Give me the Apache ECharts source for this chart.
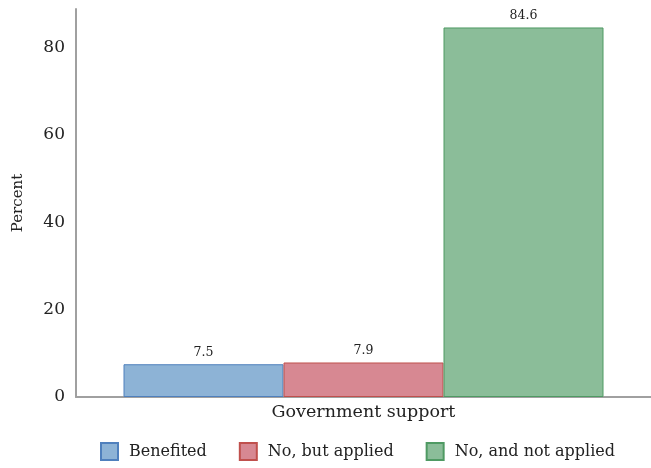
<!DOCTYPE html>
<html>
<head>
<meta charset="utf-8">
<script src="https://cdn.jsdelivr.net/npm/echarts@6/dist/echarts.min.js"></script>
<style>
  html, body { margin: 0; padding: 0; background: #fff; }
  #chart { width: 651px; height: 468px; }
</style>
</head>
<body>
<div id="chart"></div>
<script>
// Share of respondents by government support status (percent)
const categories = ['Government support'];
const seriesNames = ['Benefited', 'No, but applied', 'No, and not applied'];
const benefited = [7.5];
const butApplied = [7.9];
const notApplied = [84.6];
const yTicks = [0, 20, 40, 60, 80];

const fills = ['#8db3d6', '#d78892', '#8bbd99'];
const borders = ['#4f80bd', '#c0504d', '#4f9a63'];
const FONT = 'DejaVu Serif';

const values = [benefited, butApplied, notApplied];

const chart = echarts.init(document.getElementById('chart'), null, { renderer: 'canvas' });

chart.setOption({
  animation: false,
  textStyle: { fontFamily: FONT },
  grid: { left: 76, top: 9, width: 578, height: 388, containLabel: false },
  legend: {
    data: seriesNames,
    left: 95,
    top: 437,
    itemWidth: 17,
    itemHeight: 17,
    itemGap: 32,
    icon: 'rect',
    textStyle: { fontFamily: FONT, fontSize: 16, color: '#222', padding: [0, 0, 0, 6] }
  },
  xAxis: {
    type: 'category',
    data: categories,
    axisLine: { lineStyle: { color: '#a0a0a0', width: 2 } },
    axisTick: { show: false },
    axisLabel: { fontFamily: FONT, fontSize: 17.5, color: '#222', margin: 6 }
  },
  yAxis: {
    type: 'value',
    min: 0,
    max: 88.83,
    interval: 20,
    name: 'Percent',
    nameLocation: 'middle',
    nameGap: 50,
    nameTextStyle: { fontFamily: FONT, fontSize: 15, color: '#222' },
    axisLine: { show: true, lineStyle: { color: '#a0a0a0', width: 2 } },
    axisTick: { show: false },
    splitLine: { show: false },
    axisLabel: {
      fontFamily: FONT, fontSize: 17, color: '#222', margin: 11,
      formatter: v => (yTicks.indexOf(v) >= 0 ? String(v) : '')
    }
  },
  series: seriesNames.map((name, i) => ({
    name,
    type: 'bar',
    data: values[i],
    barWidth: 160,
    barGap: '0%',
    itemStyle: { color: fills[i], borderColor: borders[i], borderWidth: 1 },
    label: {
      show: true,
      position: 'top',
      distance: 5,
      fontFamily: FONT,
      fontSize: 12.5,
      color: '#222',
      formatter: p => p.value.toFixed(1)
    }
  }))
});
</script>
</body>
</html>
